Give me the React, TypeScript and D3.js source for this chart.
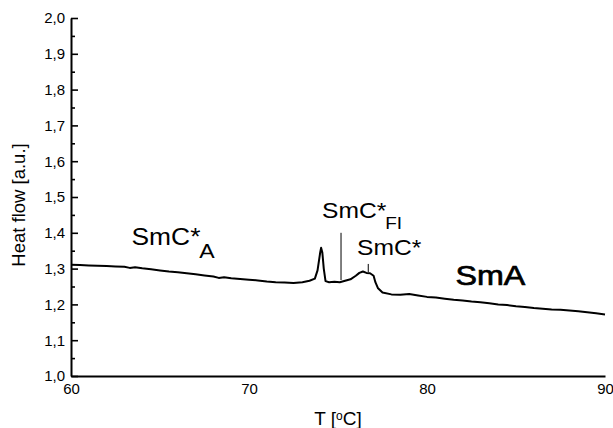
import React, { useEffect, useRef } from 'react';
import * as d3 from 'd3';

// DSC trace
const temps = [
  60.0, 60.5, 61.0, 61.5, 62.0, 62.5, 63.0, 63.3, 63.6, 64.0, 64.5, 65.0, 65.5, 66.0, 66.5, 67.0,
  67.5, 68.0, 68.3, 68.6, 69.0, 69.5, 70.0, 70.5, 71.0, 71.5, 72.0, 72.5, 73.0, 73.4, 73.7, 73.85,
  74.0, 74.05, 74.12, 74.2, 74.3, 74.5, 74.8, 75.1, 75.4, 75.7, 76.0, 76.2, 76.4, 76.6, 76.8, 77.0,
  77.1, 77.25, 77.5, 78.0, 78.5, 79.0, 79.5, 80.0, 80.5, 81.0, 81.5, 82.0, 82.5, 83.0, 83.5, 84.0,
  84.5, 85.0, 85.5, 86.0, 86.5, 87.0, 87.5, 88.0, 88.5, 89.0, 89.5, 90.0,
];
const heatFlow = [
  1.311, 1.31, 1.309, 1.308, 1.307, 1.306, 1.305, 1.302, 1.304, 1.301, 1.298, 1.295, 1.292, 1.29, 1.287, 1.284,
  1.281, 1.278, 1.274, 1.276, 1.273, 1.271, 1.269, 1.267, 1.264, 1.262, 1.261, 1.26, 1.262, 1.266, 1.272, 1.295,
  1.345, 1.358, 1.345, 1.3, 1.265, 1.262, 1.263, 1.262, 1.266, 1.27, 1.28, 1.288, 1.292, 1.288, 1.287, 1.28,
  1.262, 1.245, 1.233, 1.228, 1.227, 1.229, 1.225, 1.221, 1.219, 1.216, 1.213, 1.211, 1.208, 1.206, 1.203, 1.2,
  1.198, 1.195, 1.193, 1.19, 1.188, 1.186, 1.185, 1.183, 1.181, 1.178, 1.175, 1.172,
];

const xTicks = [60, 70, 80, 90];
const yTicks = [1.0, 1.1, 1.2, 1.3, 1.4, 1.5, 1.6, 1.7, 1.8, 1.9, 2.0];
const yMinor = [1.05, 1.15, 1.25, 1.35, 1.45, 1.55, 1.65, 1.75, 1.85, 1.95];

// transition markers: [temperature, top, bottom]
const markers: [number, number, number][] = [
  [75.17, 1.4, 1.268],
  [76.7, 1.313, 1.29],
];

const font = 'Liberation Sans, Arial, Helvetica, sans-serif';

const App = () => {
  const svgRef = useRef<SVGSVGElement>(null);

  useEffect(() => {
    const svg = d3.select(svgRef.current);
    svg.selectAll('*').remove();

    const x = d3.scaleLinear().domain([60, 90]).range([71, 605]);
    const y = d3.scaleLinear().domain([1.0, 2.0]).range([376, 18]);
    const comma = (d: d3.NumberValue) => d3.format('.1f')(+d).replace('.', ',');

    // y axis, ticks pointing inwards
    const gy = svg
      .append('g')
      .attr('transform', `translate(${x(60)},0)`)
      .call(d3.axisLeft(y).tickValues(yTicks).tickSizeInner(-7).tickSizeOuter(0).tickPadding(6).tickFormat(comma));
    svg
      .append('g')
      .attr('transform', `translate(${x(60)},0)`)
      .call(d3.axisLeft(y).tickValues(yMinor).tickSizeInner(-4).tickSizeOuter(0).tickFormat(() => ''))
      .select('.domain')
      .remove();

    const gx = svg
      .append('g')
      .attr('transform', `translate(0,${y(1.0)})`)
      .call(d3.axisBottom(x).tickValues(xTicks).tickSize(0).tickPadding(7).tickFormat(d3.format('d')));

    svg.selectAll('.domain').attr('stroke-width', 2).attr('stroke', '#000');
    svg.selectAll('.tick line').attr('stroke-width', 1.6).attr('stroke', '#000');
    [gx, gy].forEach((g) => g.selectAll('text').style('font-family', font).style('font-size', '15px').attr('fill', '#000'));

    // trace
    const line = d3
      .line<number>()
      .x((_, i) => x(temps[i]))
      .y((d) => y(d))
      .curve(d3.curveLinear);
    svg
      .append('path')
      .datum(heatFlow)
      .attr('d', line)
      .attr('fill', 'none')
      .attr('stroke', '#000')
      .attr('stroke-width', 2)
      .attr('stroke-linejoin', 'round');

    // marker lines
    svg
      .append('g')
      .selectAll('line')
      .data(markers)
      .enter()
      .append('line')
      .attr('x1', (d) => x(d[0]))
      .attr('x2', (d) => x(d[0]))
      .attr('y1', (d) => y(d[1]))
      .attr('y2', (d) => y(d[2]))
      .attr('stroke', '#000')
      .attr('stroke-width', 1);

    // phase labels
    const label = (t: number, v: number, size: number, sx: number) =>
      svg
        .append('text')
        .attr('transform', `translate(${x(t)},${y(v)}) scale(${sx},1)`)
        .style('font-family', font)
        .style('font-size', `${size}px`)
        .attr('fill', '#000');

    const a = label(63.4, 1.366, 24, 1.1);
    a.append('tspan').text('SmC*');
    a.append('tspan').attr('dx', -1).attr('dy', 13).style('font-size', '21px').text('A');

    const fi = label(74.1, 1.441, 22, 1.12);
    fi.append('tspan').text('SmC*');
    fi.append('tspan').attr('dx', -1).attr('dy', 11).style('font-size', '17px').text('FI');

    label(76.07, 1.338, 22, 1.12).text('SmC*');

    label(81.6, 1.254, 28, 1.15).attr('stroke', '#000').attr('stroke-width', 0.7).text('SmA');

    // axis titles
    svg
      .append('text')
      .attr('transform', `translate(25,${y(1.5) + 8}) rotate(-90)`)
      .attr('text-anchor', 'middle')
      .style('font-family', font)
      .style('font-size', '18.5px')
      .text('Heat flow [a.u.]');

    const xt = svg
      .append('text')
      .attr('x', 338)
      .attr('y', 425)
      .attr('text-anchor', 'middle')
      .style('font-family', font)
      .style('font-size', '19px');
    xt.append('tspan').text('T [');
    xt.append('tspan').attr('dy', -5).style('font-size', '12px').text('o');
    xt.append('tspan').attr('dy', 5).text('C]');
  }, []);

  return (
    <svg
      ref={svgRef}
      width={613}
      height={428}
      style={{ position: 'absolute', left: 0, top: 0, background: '#fff' }}
    ></svg>
  );
};

export default App;
